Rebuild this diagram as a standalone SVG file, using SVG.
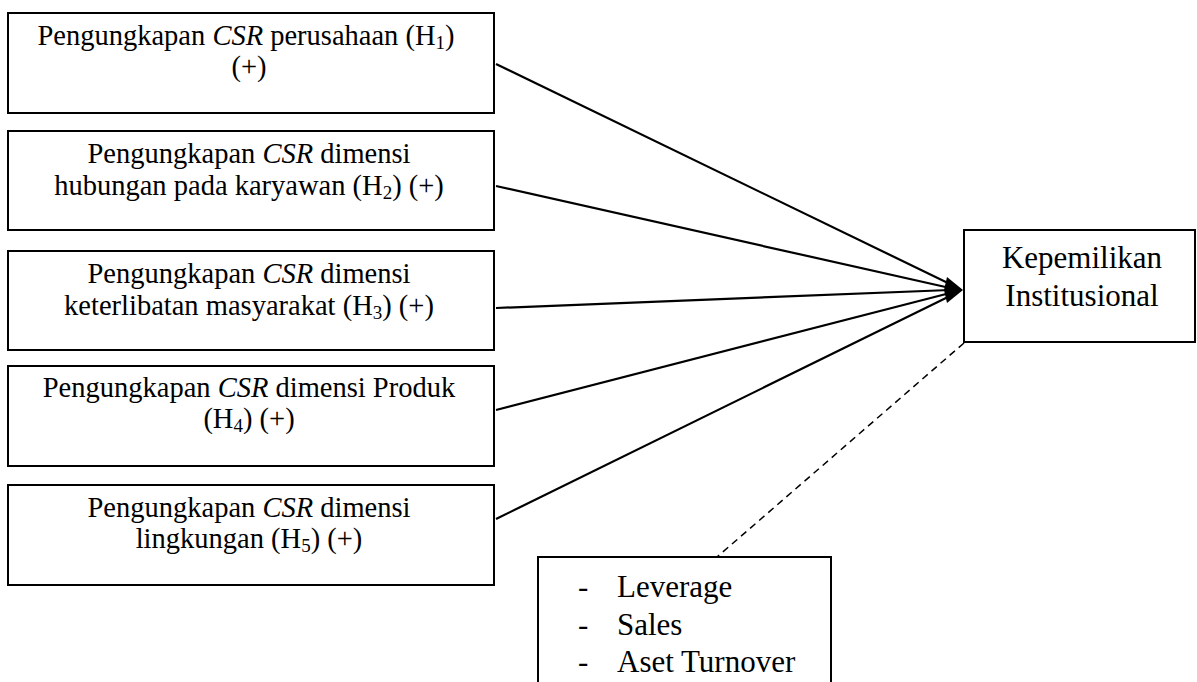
<svg xmlns="http://www.w3.org/2000/svg" width="1197" height="682" viewBox="0 0 1197 682">
<style>
.box{fill:#fff;stroke:#000;stroke-width:2}
.t{font-family:"Liberation Serif","Times New Roman",serif;font-size:28.5px;fill:#000;text-anchor:middle}
.t2{font-family:"Liberation Serif","Times New Roman",serif;font-size:31px;fill:#000}
.c{stroke:#000;stroke-width:2.2;fill:none}
.d{stroke:#000;stroke-width:1.5;fill:none;stroke-dasharray:7,5}
.i{font-style:italic}
.s{font-size:19px}
</style>
<g id="n1"><rect class="box" x="8" y="13" width="486" height="100"/>
<text class="t" x="246" y="45">Pengungkapan <tspan class="i">CSR</tspan> perusahaan (H<tspan class="s" dy="4">1</tspan><tspan dy="-4">)</tspan></text>
<text class="t" x="249" y="76">(+)</text></g>
<g id="n2"><rect class="box" x="8" y="131" width="486" height="99"/>
<text class="t" x="249" y="163">Pengungkapan <tspan class="i">CSR</tspan> dimensi</text>
<text class="t" x="249" y="195">hubungan pada karyawan (H<tspan class="s" dy="4">2</tspan><tspan dy="-4">) (+)</tspan></text></g>
<g id="n3"><rect class="box" x="8" y="251" width="486" height="99"/>
<text class="t" x="249" y="283">Pengungkapan <tspan class="i">CSR</tspan> dimensi</text>
<text class="t" x="249" y="315">keterlibatan masyarakat (H<tspan class="s" dy="4">3</tspan><tspan dy="-4">) (+)</tspan></text></g>
<g id="n4"><rect class="box" x="8" y="366" width="486" height="100"/>
<text class="t" x="249" y="397">Pengungkapan <tspan class="i">CSR</tspan> dimensi Produk</text>
<text class="t" x="249" y="428">(H<tspan class="s" dy="4">4</tspan><tspan dy="-4">) (+)</tspan></text></g>
<g id="n5"><rect class="box" x="8" y="485" width="486" height="100"/>
<text class="t" x="249" y="517">Pengungkapan <tspan class="i">CSR</tspan> dimensi</text>
<text class="t" x="249" y="548">lingkungan (H<tspan class="s" dy="4">5</tspan><tspan dy="-4">) (+)</tspan></text></g>
<g id="target"><rect class="box" x="964" y="230" width="231" height="112"/>
<text class="t2" x="1082" y="268" text-anchor="middle">Kepemilikan</text>
<text class="t2" x="1082" y="306" text-anchor="middle">Institusional</text></g>
<g id="controls"><rect class="box" x="538" y="557" width="293" height="140"/>
<text class="t2" x="578" y="597">-</text><text class="t2" x="617" y="597">Leverage</text>
<text class="t2" x="578" y="635">-</text><text class="t2" x="617" y="635">Sales</text>
<text class="t2" x="578" y="672">-</text><text class="t2" x="617" y="672">Aset Turnover</text></g>
<g id="connectors">
<line class="c" x1="496" y1="64" x2="950" y2="284"/>
<line class="c" x1="496" y1="186" x2="950" y2="288"/>
<line class="c" x1="496" y1="308" x2="950" y2="290"/>
<line class="c" x1="496" y1="410" x2="950" y2="293"/>
<line class="c" x1="496" y1="519" x2="950" y2="296"/>
<polygon points="963,290 947,277 944,290 947,303" fill="#000"/>
<line class="d" x1="964" y1="343" x2="717" y2="557"/>
</g>
</svg>
